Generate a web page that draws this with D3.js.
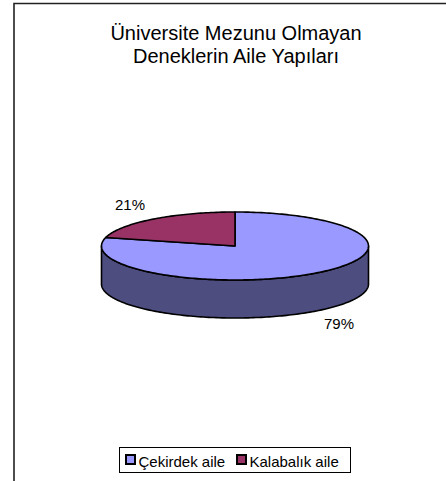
<!DOCTYPE html>
<html><head><meta charset="utf-8">
<script src="https://cdn.jsdelivr.net/npm/d3@7/dist/d3.min.js"></script>
<style>html,body{margin:0;padding:0;background:#fff;}svg{display:block;}</style>
</head><body>
<svg id="c" width="446" height="481"></svg>
<script>
const titleLines = ["Üniversite Mezunu Olmayan", "Deneklerin Aile Yapıları"];
const categories = ["Çekirdek aile", "Kalabalık aile"];
const values = [79, 21];
const labels = ["79%", "21%"];
const topColors = ["#9999FF", "#993366"];
const sideColors = ["#4D4D80", "#4D1A33"];

const svg = d3.select("#c");
const font = "Arial, 'Liberation Sans', Helvetica, sans-serif";

// frame
svg.append("path").attr("d", "M14,481 L14,3.5 L446,3.5")
  .attr("fill", "none").attr("stroke", "#222").attr("stroke-width", 1.6);

// title
svg.append("text").attr("x", 236).attr("y", 40).attr("text-anchor", "middle")
  .attr("font-family", font).attr("font-size", 20).attr("fill", "#000")
  .selectAll("tspan").data(titleLines).join("tspan")
  .attr("x", 236).attr("dy", (d, i) => i === 0 ? 0 : 22.5).text(d => d);

// pie geometry
const cx = 235, cy = 246, rx = 133.5, ry = 34, depth = 38;
const pie = d3.pie().sort(null).value(d => d)(values);
const pt = (a, dy = 0) => [cx + rx * Math.sin(a), cy - ry * Math.cos(a) + dy];

function arcPts(a0, a1, dy) {
  const n = Math.max(2, Math.ceil(Math.abs(a1 - a0) / 0.02));
  return d3.range(n + 1).map(i => pt(a0 + (a1 - a0) * i / n, dy));
}

const g = svg.append("g");
// sides (visible front half: PI/2 .. 3PI/2)
pie.forEach((p, i) => {
  const s = Math.max(p.startAngle, Math.PI / 2), e = Math.min(p.endAngle, 3 * Math.PI / 2);
  if (e <= s) return;
  const top = arcPts(s, e, 0), bot = arcPts(e, s, depth);
  g.append("path").attr("d", "M" + top.concat(bot).map(q => q.join(",")).join("L") + "Z")
    .attr("fill", sideColors[i]).attr("stroke", "#000").attr("stroke-width", 1.6)
    .attr("stroke-linejoin", "round");
});
// tops
pie.forEach((p, i) => {
  const pts = [[cx, cy]].concat(arcPts(p.startAngle, p.endAngle, 0));
  g.append("path").attr("d", "M" + pts.map(q => q.join(",")).join("L") + "Z")
    .attr("fill", topColors[i]).attr("stroke", "#000").attr("stroke-width", 1.6)
    .attr("stroke-linejoin", "round");
});

// labels
const labelPos = [[339, 329], [130, 210]];
labels.forEach((t, i) => {
  svg.append("text").attr("x", labelPos[i][0]).attr("y", labelPos[i][1])
    .attr("text-anchor", "middle").attr("font-family", font).attr("font-size", 15)
    .attr("fill", "#000").text(t);
});

// legend
const lg = svg.append("g");
lg.append("rect").attr("x", 119.5).attr("y", 447.5).attr("width", 231).attr("height", 25)
  .attr("fill", "#fff").attr("stroke", "#000").attr("stroke-width", 1);
const legX = [126, 237];
categories.forEach((c, i) => {
  lg.append("rect").attr("x", legX[i]).attr("y", 455).attr("width", 9).attr("height", 9)
    .attr("fill", topColors[i]).attr("stroke", "#000").attr("stroke-width", 2);
  lg.append("text").attr("x", legX[i] + 12.5).attr("y", 467).attr("font-family", font)
    .attr("font-size", 15).attr("fill", "#000").text(c);
});
</script>
</body></html>
